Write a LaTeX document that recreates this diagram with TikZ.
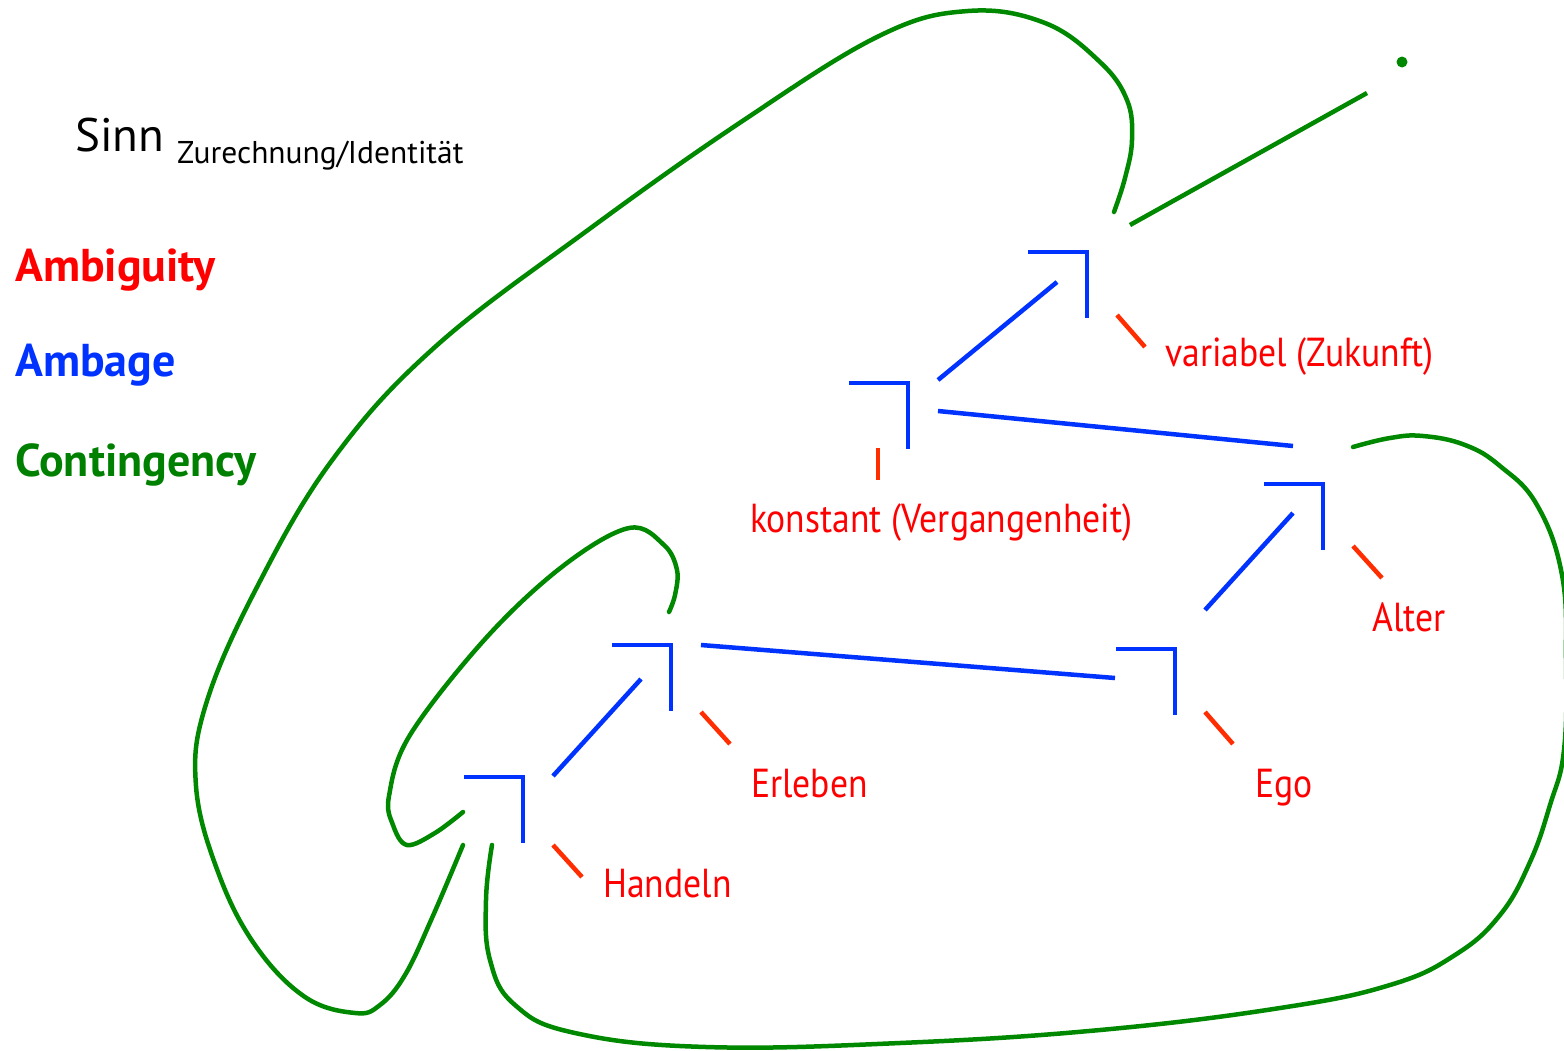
\documentclass[tikz,border=0pt]{standalone}
\usepackage{fontspec}
\setmainfont{PT Sans}
\newfontfamily\labfont[FakeStretch=0.88]{PT Sans}
\definecolor{cblue}{RGB}{0,51,255}
\definecolor{ctick}{RGB}{255,45,0}
\definecolor{cred}{RGB}{255,0,0}
\definecolor{cgreen}{RGB}{0,136,0}
\definecolor{lgreen}{RGB}{0,128,0}
\tikzset{
  crossline/.style={draw=cblue, line width=4.5pt},
  link/.style={draw=cblue, line width=4.5pt},
  tickline/.style={draw=ctick, line width=4.5pt},
  contour/.style={draw=cgreen, line width=4.5pt, line cap=round},
  lab/.style={text=cred, font=\labfont\fontsize{40.5}{44}\selectfont, anchor=base west, inner sep=0pt},
  legend/.style={font=\bfseries\fontsize{46}{50}\selectfont, anchor=base west, inner sep=0pt},
}
\begin{document}
\begin{tikzpicture}[x=1pt,y=-1pt]
\useasboundingbox (0,0) rectangle (1564,1050);
% title
\node[anchor=base west, inner sep=0pt, font=\fontsize{47}{50}\selectfont] (sinn) at (75,151) {Sinn};
\node[anchor=base west, inner sep=0pt, font=\fontsize{31.5}{34}\selectfont] (sub) at (177,163) {Zurechnung/Identität};
% legend
\node[legend, text=cred] (amb) at (15,281) {Ambiguity};
\node[legend, text=cblue] (ambage) at (15,376) {Ambage};
\node[legend, text=lgreen] (cont) at (15,476) {Contingency};
% mark corners
\foreach \n/\x/\y in {c1/1087/252, c2/908/383, c3/1323/484, c4/1175/649, c5/671/645, c6/523/777}{
  \coordinate (\n) at (\x,\y);
  \coordinate (\n l) at (\x-59,\y);
  \coordinate (\n d) at (\x,\y+66);
  \draw[crossline] (\n l) -- (\n) -- (\n d);
}
% blue connectors
\coordinate (a1) at (938,380); \coordinate (a2) at (1057,282);
\coordinate (b1) at (938,411); \coordinate (b2) at (1293,446);
\coordinate (d1) at (1205,610); \coordinate (d2) at (1293,513);
\coordinate (e1) at (701,645); \coordinate (e2) at (1115,678);
\coordinate (f1) at (553,776); \coordinate (f2) at (641,679);
\draw[link] (a1) -- (a2);
\draw[link] (b1) -- (b2);
\draw[link] (d1) -- (d2);
\draw[link] (e1) -- (e2);
\draw[link] (f1) -- (f2);
% red ticks
\coordinate (t1a) at (1117,315); \coordinate (t1b) at (1145,347);
\coordinate (t2a) at (878,448); \coordinate (t2b) at (878,480);
\coordinate (t3a) at (1353,546); \coordinate (t3b) at (1382,578);
\coordinate (t4a) at (1205,712); \coordinate (t4b) at (1233,744);
\coordinate (t5a) at (701,712); \coordinate (t5b) at (730,744);
\coordinate (t6a) at (553,845); \coordinate (t6b) at (582,877);
\foreach \t in {1,...,6}{\draw[tickline] (t\t a) -- (t\t b);}
% labels
\node[lab] (var) at (1165,366) {variabel (Zukunft)};
\node[lab] (kon) at (750,532) {konstant (Vergangenheit)};
\node[lab] (alt) at (1372,631) {Alter};
\node[lab] (ego) at (1255,797) {Ego};
\node[lab] (erl) at (751,797) {Erleben};
\node[lab] (han) at (603,897) {Handeln};
% green contours
\draw[contour] plot[smooth, tension=0.65] coordinates {
 (463,845) (432,918) (405,975) (380,1005) (355,1013) (305,997) (255,945) (218,872) (196,786) (206,704) (257,587) (333,459) (435,347) (588,230) (741,122) (879,36) (968,11) (1045,23) (1100,62) (1127,100) (1132,140) (1125,178) (1114,212)};
\draw[contour] plot[smooth, tension=0.6] coordinates {
 (463,812) (435,833) (407,845) (393,825) (389,796) (410,735) (486,638) (563,566) (629,528) (664,545) (677,570) (675,595) (669,612)};
\draw[contour] plot[smooth, tension=0.7] coordinates {
 (492,845) (486,900) (490,960) (515,1005) (575,1033) (706,1047) (900,1043) (1100,1030) (1280,1008) (1390,985) (1455,955) (1500,915) (1530,862) (1550,805) (1564,750) (1566,660) (1562,575) (1537,505) (1500,466) (1465,445) (1423,436) (1390,438) (1353,447)};
\coordinate (g1) at (1130,225); \coordinate (g2) at (1367,93);
\draw[contour, line cap=butt] (g1) -- (g2);
\coordinate (dot) at (1402,62);
\fill[cgreen] (dot) circle (5.5);
\end{tikzpicture}
\end{document}
